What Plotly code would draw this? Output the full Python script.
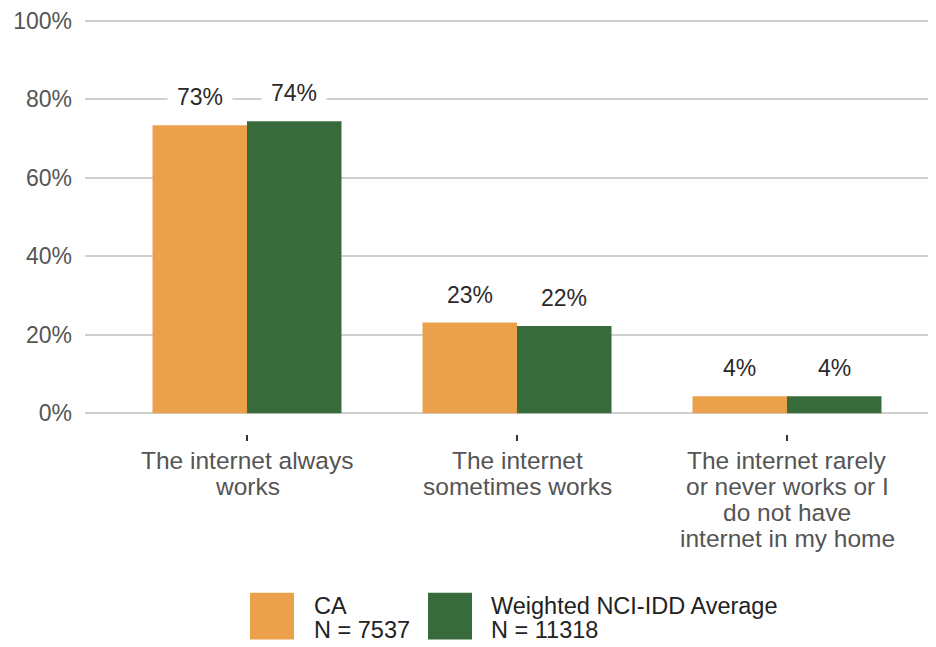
import plotly.graph_objects as go

categories = [
    "The internet always<br>works",
    "The internet<br>sometimes works",
    "The internet rarely<br>or never works or I<br>do not have<br>internet in my home",
]
series_names = ["CA", "Weighted NCI-IDD Average"]
series_n = ["N = 7537", "N = 11318"]
ca_values = [73.4, 23.1, 4.3]
nci_values = [74.4, 22.2, 4.3]
series_values = [ca_values, nci_values]
series_colors = ["#EBA04C", "#386B3B"]
y_ticks = [0, 20, 40, 60, 80, 100]
y_tick_labels = ["0%", "20%", "40%", "60%", "80%", "100%"]

FONT = "Liberation Sans, Arial, sans-serif"

fig = go.Figure()
for name, vals, col in zip(series_names, series_values, series_colors):
    fig.add_trace(go.Bar(
        x=list(range(len(categories))), y=vals, name=name,
        marker=dict(color=col, line=dict(width=0)),
        showlegend=False, hoverinfo="skip",
    ))

bargap = 0.3
bar_w = (1 - bargap) / len(series_names)
annotations = []
for s, vals in enumerate(series_values):
    off = (s - (len(series_names) - 1) / 2) * bar_w
    for i, v in enumerate(vals):
        annotations.append(dict(
            x=i + off, y=v, xref="x", yref="y",
            text=f"{round(v)}%", showarrow=False,
            yanchor="middle", yshift=28,
            bgcolor="white", borderpad=9,
            font=dict(family=FONT, size=23, color="#2a2a2a"),
        ))

# page body has an 8px margin: positions below are window pixels
PX_PER_UNIT = 3.95
ZERO_PX = 413
Y_MIN, Y_MAX = -5.32, 101.0
PLOT_L, PLOT_R = 85, 944
PLOT_T = round(ZERO_PX - PX_PER_UNIT * Y_MAX)
PLOT_B = round(ZERO_PX - PX_PER_UNIT * Y_MIN)
W, H = float(PLOT_R - PLOT_L), float(PLOT_B - PLOT_T)
def px_x(p):
    return (p - PLOT_L) / W
def px_y(p):
    return (PLOT_B - p) / H

# category labels, one annotation per line for tight line spacing
for i, cat in enumerate(categories):
    for j, line in enumerate(cat.split("<br>")):
        annotations.append(dict(
            x=i, y=px_y(461 + 26 * j), xref="x", yref="paper",
            text=line, showarrow=False, xanchor="center", yanchor="middle",
            font=dict(family=FONT, size=24.5, color="#555555"),
        ))

# manual legend (large swatches like reference)
swatch_left = [250, 428]
text_left = [312, 489]
shapes = []
for k in range(len(series_names)):
    shapes.append(dict(
        type="rect", xref="paper", yref="paper",
        x0=px_x(swatch_left[k]), x1=px_x(swatch_left[k] + 44),
        y0=px_y(641), y1=px_y(594),
        fillcolor=series_colors[k], line=dict(width=0),
    ))
    for txt, yy in ((series_names[k], 607.5), (series_n[k], 631.5)):
        annotations.append(dict(
            x=px_x(text_left[k]), y=px_y(yy), xref="paper", yref="paper",
            text=txt, showarrow=False, xanchor="left", yanchor="middle",
            font=dict(family=FONT, size=23.5, color="#222222"),
        ))

fig.update_layout(
    width=936, height=647,
    margin=dict(l=PLOT_L - 8, r=0, t=PLOT_T - 8, b=647 - (PLOT_B - 8)),
    paper_bgcolor="white", plot_bgcolor="white",
    barmode="group", bargap=bargap, bargroupgap=0,
    font=dict(family=FONT, size=23, color="#555555"),
    annotations=annotations, shapes=shapes,
    showlegend=False,
)
x_unit = 270.0
x_left = -0.6
fig.update_xaxes(
    range=[x_left, x_left + W / x_unit], showgrid=False, showline=False, zeroline=False,
    tickvals=list(range(len(categories))), showticklabels=False,
    ticks="outside", ticklen=6, tickwidth=2, tickcolor="#333333",
)
fig.update_yaxes(
    range=[Y_MIN, Y_MAX], tickvals=y_ticks, ticktext=y_tick_labels,
    showgrid=True, gridcolor="#d0d0d0", gridwidth=2,
    zeroline=False, showline=False, ticks="", ticklabelstandoff=12,
    ticklabeloverflow="allow",
    tickfont=dict(family=FONT, size=23, color="#555555"),
)

fig.write_html("out.html")
